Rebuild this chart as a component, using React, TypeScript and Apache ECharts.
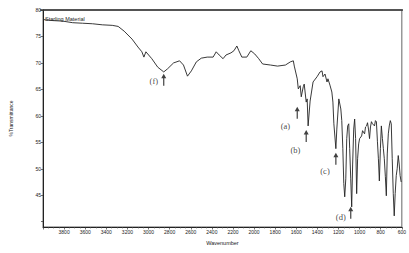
import React, { useEffect, useRef } from "react";
import * as echarts from "echarts";

const wavenumbers = [4000, 3906, 3813, 3719, 3625, 3531, 3438, 3344, 3288, 3231, 3156, 3100, 3063, 3044, 3025, 2969, 2913, 2856, 2819, 2763, 2706, 2669, 2631, 2594, 2547, 2500, 2444, 2388, 2359, 2331, 2294, 2266, 2219, 2191, 2163, 2144, 2116, 2069, 2031, 1994, 1956, 1919, 1844, 1778, 1703, 1656, 1628, 1619, 1591, 1581, 1563, 1553, 1534, 1525, 1506, 1497, 1488, 1469, 1441, 1403, 1375, 1356, 1347, 1328, 1309, 1300, 1281, 1263, 1253, 1244, 1225, 1216, 1197, 1178, 1169, 1159, 1150, 1141, 1131, 1122, 1113, 1103, 1094, 1084, 1075, 1066, 1056, 1047, 1038, 1028, 1019, 1009, 1000, 981, 972, 953, 944, 934, 925, 916, 906, 897, 888, 878, 859, 850, 841, 831, 822, 813, 803, 794, 784, 775, 766, 756, 747, 738, 728, 719, 709, 700, 691, 681, 672, 663, 653, 644, 634, 625, 616, 606];
const transmittance = [78.2, 78.0, 77.9, 77.6, 77.5, 77.4, 77.2, 77.1, 76.9, 76.0, 74.5, 73.0, 72.1, 71.1, 72.1, 70.8, 69.2, 68.3, 68.9, 70.0, 70.4, 69.6, 67.5, 68.5, 70.2, 70.9, 71.1, 71.1, 72.1, 71.5, 70.8, 71.5, 71.9, 72.3, 73.2, 72.3, 71.1, 71.1, 72.3, 71.7, 70.8, 69.8, 69.6, 69.4, 69.6, 70.2, 70.4, 69.4, 67.0, 65.1, 65.7, 63.6, 65.5, 66.0, 62.6, 63.2, 58.1, 62.8, 66.4, 67.4, 68.3, 68.5, 67.4, 67.9, 66.4, 67.0, 65.8, 64.5, 62.6, 58.5, 53.8, 57.5, 63.2, 61.3, 59.1, 53.8, 47.2, 44.7, 48.1, 55.7, 58.1, 58.5, 53.8, 48.1, 42.8, 50.9, 57.5, 59.4, 55.7, 45.3, 51.9, 54.7, 55.7, 56.2, 57.2, 56.6, 57.9, 58.1, 58.7, 57.5, 55.7, 57.9, 58.9, 58.5, 58.1, 59.1, 58.9, 55.1, 51.9, 47.7, 53.8, 58.1, 55.7, 53.8, 51.9, 48.5, 44.9, 52.8, 56.6, 58.1, 59.1, 58.5, 51.9, 45.3, 41.1, 45.3, 48.7, 50.0, 52.5, 50.9, 48.7, 47.5];

const yTickValues = [40, 45, 50, 55, 60, 65, 70, 75, 80];
const yLabelValues = [45, 50, 55, 60, 65, 70, 75, 80];

const peakLabels = ["(a)", "(b)", "(c)", "(d)", "(f)"];
const arrowX = [1591, 1506, 1225, 1084, 2856];
const arrowY = [60.6, 56.2, 51.9, 41.7, 66.8];
const labelX = [1703, 1609, 1328, 1178, 2950];
const labelY = [58.1, 53.6, 49.6, 40.9, 66.6];

const sampleName = "Starling Material";

export default function App() {
  const ref = useRef<HTMLDivElement>(null);
  useEffect(() => {
    if (!ref.current) return;
    const chart = echarts.init(ref.current, null, { renderer: "svg" });
    const axisFont = { fontFamily: "Liberation Sans", fontSize: 5, color: "#222" };
    chart.setOption({
      animation: false,
      backgroundColor: "#fff",
      grid: {
        left: 40,
        right: 6,
        top: 10,
        bottom: 26,
        show: true,
        borderColor: "#666",
        borderWidth: 1,
        backgroundColor: "transparent",
      },
      xAxis: {
        type: "value",
        min: 600,
        max: 4000,
        interval: 200,
        inverse: true,
        name: "Wavenumber",
        nameLocation: "middle",
        nameGap: 13,
        nameTextStyle: { fontFamily: "Liberation Sans", fontSize: 5.5, color: "#222" },
        axisLine: { lineStyle: { color: "#222", width: 1 } },
        axisTick: { show: true, length: 2.5, lineStyle: { color: "#333", width: 0.7 } },
        minorTick: { show: true, splitNumber: 4, length: 1.5, lineStyle: { color: "#555", width: 0.6 } },
        axisLabel: {
          ...axisFont,
          margin: 2,
          formatter: (v: number) => (v === 4000 ? "" : String(v)),
        },
        splitLine: { show: false },
      },
      yAxis: {
        type: "value",
        min: 39,
        max: 80,
        name: "%Transmittance",
        nameLocation: "middle",
        nameRotate: 90,
        nameGap: 30,
        nameTextStyle: { fontFamily: "Liberation Sans", fontSize: 5, color: "#222" },
        axisLine: { show: true, lineStyle: { color: "#222", width: 1 } },
        axisTick: { show: true, length: 2, customValues: yTickValues, lineStyle: { color: "#333", width: 0.7 } },
        axisLabel: { ...axisFont, margin: 2, customValues: yLabelValues },
        splitLine: { show: false },
      },
      graphic: [
        {
          type: "line",
          shape: { x1: 40, y1: 10, x2: 403, y2: 10 },
          style: { stroke: "#333", lineWidth: 1.6 },
          z: 10,
        },
        {
          type: "text",
          left: 45,
          top: 16,
          style: { text: sampleName, fontFamily: "Liberation Sans", fontSize: 5.5, fill: "#222" },
        },
      ],
      series: [
        {
          type: "line",
          data: wavenumbers.map((w, i) => [w, transmittance[i]]),
          showSymbol: false,
          symbol: "none",
          lineStyle: { color: "#222", width: 0.9 },
          z: 2,
        },
        {
          type: "scatter",
          data: arrowX.map((x, i) => [x, arrowY[i]]),
          symbol: "path://M5,0 L10,9 L6.2,9 L6.2,24 L3.8,24 L3.8,9 L0,9 Z",
          symbolSize: [5, 12],
          itemStyle: { color: "#111" },
          z: 3,
        },
        {
          type: "scatter",
          data: labelX.map((x, i) => ({ value: [x, labelY[i]], name: peakLabels[i] })),
          symbol: "circle",
          symbolSize: 1,
          itemStyle: { color: "rgba(0,0,0,0)" },
          label: {
            show: true,
            position: "inside",
            formatter: (p: any) => p.name,
            fontFamily: "Liberation Serif",
            fontSize: 8.5,
            color: "#111",
            textBorderWidth: 0,
            textBorderColor: "transparent",
          },
          z: 3,
        },
      ],
    });
    return () => chart.dispose();
  }, []);
  return (
    <div
      ref={ref}
      style={{ position: "fixed", left: 0, top: 0, width: 409, height: 253 }}
    />
  );
}
